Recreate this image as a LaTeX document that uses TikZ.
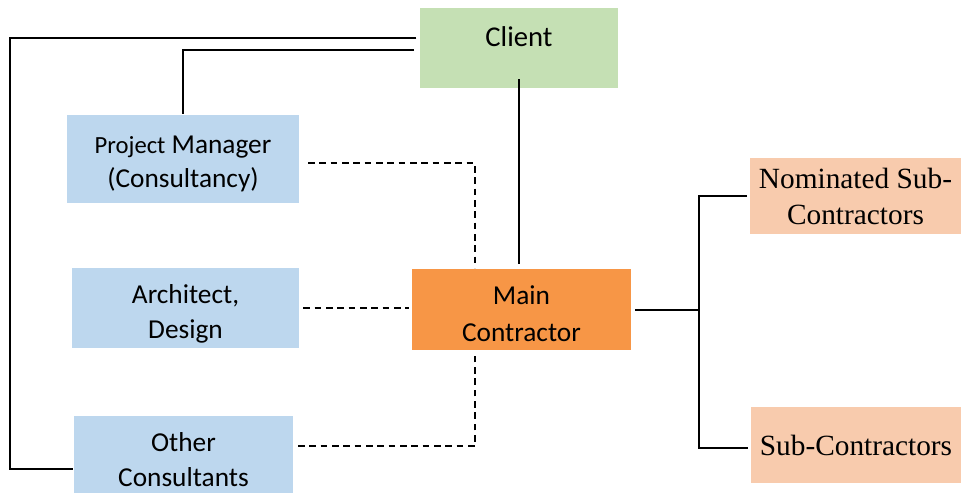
\documentclass[tikz,border=0pt]{standalone}
\usepackage{fontspec}
\setmainfont{Liberation Serif}
\newfontfamily\calibri{Carlito}

\definecolor{clientgreen}{HTML}{C5E0B4}
\definecolor{consultblue}{HTML}{BDD7EE}
\definecolor{mainorange}{HTML}{F79646}
\definecolor{subpeach}{HTML}{F8CBAD}

\tikzset{every picture/.style={line width=1.5pt}}

\begin{document}
\begin{tikzpicture}[x=0.75pt,y=0.75pt,yscale=-1,xscale=1,
  box/.style={inner sep=0pt, align=center, font=\calibri\fontsize{20.5}{26}\selectfont},
  subbox/.style={inner sep=0pt, align=center, fill=subpeach, font=\fontsize{22}{27}\selectfont},
  dashlink/.style={dash pattern=on 5pt off 3.5pt}]
%set diagram left start at 0, and has height of 493
\useasboundingbox (0,0) rectangle (961,493);

%Shape: Rectangle [client]
\node [box, fill=clientgreen, minimum width=148.5pt, minimum height=60pt, text height=15pt, text depth=17pt, font=\calibri\fontsize{21.5}{26}\selectfont] (client) at (519,48) {Client};
%Shape: Rectangle [pm]
\node [box, fill=consultblue, minimum width=174pt, minimum height=66pt] (pm) at (183,159) {\rule{0pt}{20.6pt}{\fontsize{18.5}{26}\selectfont Project} Manager\\(Consultancy)};
%Shape: Rectangle [arch]
\node [box, fill=consultblue, minimum width=170.25pt, minimum height=60pt] (arch) at (185.5,308) {\rule{0pt}{23pt}Architect,\\Design};
%Shape: Rectangle [other]
\node [box, fill=consultblue, minimum width=164.25pt, minimum height=57.75pt] (other) at (183.5,454.5) {\rule{0pt}{22pt}Other\\Consultants};
%Shape: Rectangle [main]
\node [box, fill=mainorange, minimum width=164.25pt, minimum height=60.75pt, font=\calibri\fontsize{20.5}{27.5}\selectfont] (main) at (521.5,309.5) {\rule{0pt}{20pt}Main\\Contractor};
%Shape: Rectangle [nom]
\node [subbox, minimum width=158.25pt, minimum height=57pt] (nom) at (855.5,196) {Nominated Sub-\\Contractors};
%Shape: Rectangle [sub]
\node [subbox, minimum width=157.5pt, minimum height=57pt] (sub) at (856,445) {Sub-Contractors};

\coordinate (lft) at (13,0);
\coordinate (dash) at (475,0);
\coordinate (split) at (699,309.5);

%Straight Lines [client -- other]
\draw ([xshift=-2pt,yshift=-7.5pt]client.west) -- ([xshift=-2pt,yshift=-7.5pt]client.west -| lft) |- ([yshift=10.5pt]other.west);
%Straight Lines [client -- pm]
\draw ([xshift=-3.75pt,yshift=1.5pt]client.west) -| (pm.north);
%Straight Lines [client -- main]
\draw ([yshift=-7.5pt]client.south) -- ([yshift=-3pt]client.south |- main.north);
%Straight Lines [main -- subcontractors]
\draw ([xshift=2.5pt]main.east) -- (split);
\draw ([xshift=-1.5pt]nom.west) -| (split) |- ([xshift=-1.5pt,yshift=2pt]sub.west);

%Dashed Lines [consultants -- main]
\draw [dashlink] ([xshift=6pt,yshift=3pt]pm.east) -| (dash |- main.north);
\draw [dashlink] ([xshift=2.5pt]arch.east) -- ([xshift=-1.5pt]arch.east -| main.west);
\draw [dashlink] ([xshift=3pt,yshift=-6.4pt]other.east) -| ([yshift=2pt]dash |- main.south);

\end{tikzpicture}
\end{document}
